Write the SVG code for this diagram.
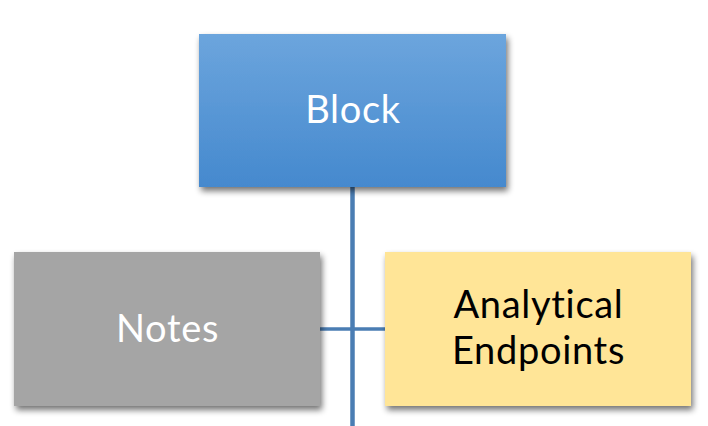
<svg xmlns="http://www.w3.org/2000/svg" width="708" height="426" viewBox="0 0 708 426">
  <defs>
    <linearGradient id="blueGrad" x1="0" y1="0" x2="0" y2="1">
      <stop offset="0" stop-color="#6CA5DD"/>
      <stop offset="1" stop-color="#4589CE"/>
    </linearGradient>
    <filter id="shadow" x="-10%" y="-10%" width="125%" height="130%">
      <feGaussianBlur in="SourceAlpha" stdDeviation="3"/>
      <feOffset dx="2" dy="4" result="b"/>
      <feComponentTransfer><feFuncA type="linear" slope="0.55"/></feComponentTransfer>
      <feMerge><feMergeNode/><feMergeNode in="SourceGraphic"/></feMerge>
    </filter>
  </defs>
  <style>
    .lbl { font-family: Lato, "Open Sans", "Liberation Sans", sans-serif; font-size: 38px; letter-spacing: 0.7px; text-anchor: middle; }
    .white { fill: #FFFFFF; }
    .black { fill: #000000; }
    .conn { stroke: #4A7DB3; fill: none; }
  </style>
  <rect width="708" height="426" fill="#FFFFFF"/>
  <g id="connectors">
    <line class="conn" x1="352.5" y1="187" x2="352.5" y2="426" stroke-width="4.5"/>
    <line class="conn" x1="320" y1="329" x2="385" y2="329" stroke-width="3.5"/>
  </g>
  <g id="node-block">
    <rect x="199" y="34" width="307" height="153" fill="url(#blueGrad)" filter="url(#shadow)"/>
    <text class="lbl white" x="353" y="123">Block</text>
  </g>
  <g id="node-notes">
    <rect x="14" y="252" width="306" height="154" fill="#A5A5A5" filter="url(#shadow)"/>
    <text class="lbl white" x="167.5" y="342">Notes</text>
  </g>
  <g id="node-analytical-endpoints">
    <rect x="385" y="252" width="306" height="154" fill="#FFE597" filter="url(#shadow)"/>
    <text class="lbl black" x="538.5" y="318">Analytical</text>
    <text class="lbl black" x="538.5" y="364">Endpoints</text>
  </g>
</svg>
